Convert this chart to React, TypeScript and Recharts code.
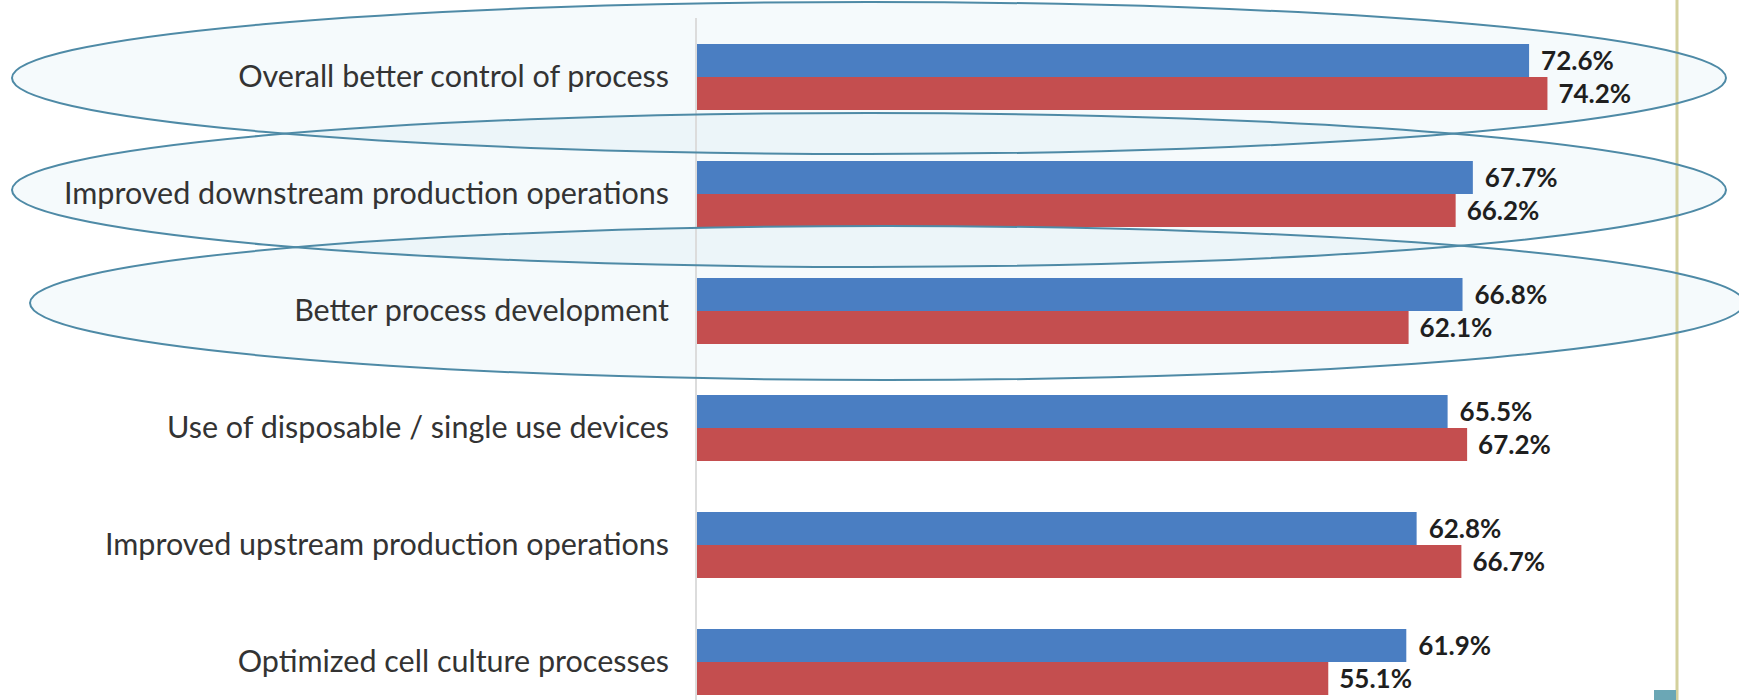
import React from "react";
import { BarChart, Bar, XAxis, YAxis, LabelList } from "recharts";

const categories = [
  "Overall better control of process",
  "Improved downstream production operations",
  "Better process development",
  "Use of disposable / single use devices",
  "Improved upstream production operations",
  "Optimized cell culture processes",
];
const seriesBlue = [72.6, 67.7, 66.8, 65.5, 62.8, 61.9];
const seriesRed = [74.2, 66.2, 62.1, 67.2, 66.7, 55.1];
const xDomain: [number, number] = [0, 80];

// hand-drawn annotation ellipses (overlay, not data)
const highlightEllipses = [
  { cx: 869, cy: 78, rx: 857, ry: 76 },
  { cx: 869, cy: 190, rx: 857, ry: 77 },
  { cx: 887, cy: 303, rx: 857, ry: 77 },
];

const data = categories.map((name, i) => ({
  name,
  blue: seriesBlue[i],
  red: seriesRed[i],
}));

const fmt = (v: any) => `${Number(v).toFixed(1)}%`;
const FONT = "Lato, 'Open Sans', sans-serif";

export default function App() {
  return (
    <div
      style={{
        position: "absolute",
        left: 0,
        top: 0,
        width: 1739,
        height: 700,
        overflow: "hidden",
        background: "#ffffff",
      }}
    >
      <svg
        width={1739}
        height={700}
        style={{ position: "absolute", left: 0, top: 0, pointerEvents: "none" }}
      >
        {highlightEllipses.map((e, i) => (
          <ellipse
            key={i}
            cx={e.cx}
            cy={e.cy}
            rx={e.rx}
            ry={e.ry}
            fill="rgba(185,220,232,0.14)"
            stroke="none"
          />
        ))}
      </svg>
      <div style={{ position: "absolute", left: 0, top: 0 }}>
        <BarChart
          width={1739}
          height={720}
          data={data}
          layout="vertical"
          margin={{ top: 18, right: 125, bottom: 0, left: 0 }}
          barGap={0}
          barSize={33}
        >
          <XAxis type="number" domain={xDomain} hide />
          <YAxis
            type="category"
            dataKey="name"
            width={696}
            tickLine={false}
            tickSize={0}
            tickMargin={27}
            axisLine={{ stroke: "#dcdcdc", strokeWidth: 2 }}
            tick={{ fontSize: 30.5, fill: "#333333", fontFamily: FONT }}
            interval={0}
          />
          <Bar dataKey="blue" name="Series 1" fill="#4a7ec2" isAnimationActive={false}>
            <LabelList
              dataKey="blue"
              position="right"
              offset={12}
              formatter={fmt}
              style={{ fontSize: 26, fontWeight: 700, fill: "#1f1f1f", fontFamily: FONT }}
            />
          </Bar>
          <Bar dataKey="red" name="Series 2" fill="#c44e4f" isAnimationActive={false}>
            <LabelList
              dataKey="red"
              position="right"
              offset={11}
              formatter={fmt}
              style={{ fontSize: 26, fontWeight: 700, fill: "#1f1f1f", fontFamily: FONT }}
            />
          </Bar>
        </BarChart>
      </div>
      <svg
        width={1739}
        height={700}
        style={{ position: "absolute", left: 0, top: 0, pointerEvents: "none" }}
      >
        <line x1={1677} y1={0} x2={1677} y2={700} stroke="#d3d09c" strokeWidth={3} />
        <rect x={1654} y={690} width={22} height={10} fill="#6ba7b5" />
        {highlightEllipses.map((e, i) => (
          <ellipse
            key={i}
            cx={e.cx}
            cy={e.cy}
            rx={e.rx}
            ry={e.ry}
            fill="none"
            stroke="#4e8aa6"
            strokeWidth={2}
          />
        ))}
      </svg>
    </div>
  );
}
